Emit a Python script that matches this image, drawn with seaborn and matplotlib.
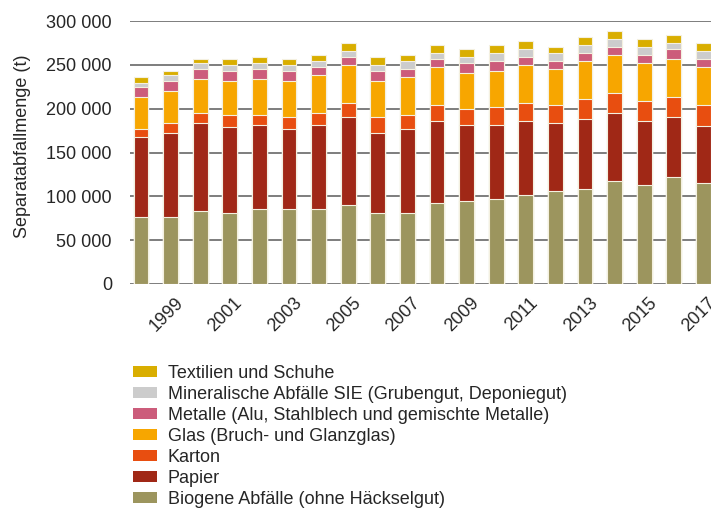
import numpy as np
import pandas as pd
import matplotlib
matplotlib.use("Agg")
import matplotlib.pyplot as plt
import matplotlib.transforms as mtransforms
from matplotlib.patches import Patch
from matplotlib.ticker import FuncFormatter
import seaborn as sns

# Separatabfall Mengen pro Jahr (t)
years = list(range(1998, 2018))
biogene = [76400, 76000, 83600, 80600, 85200, 85200, 85200, 89700, 80600, 80600,
           92000, 94300, 96600, 101100, 105700, 108000, 117100, 112500, 121700, 114800]
papier = [90900, 95900, 99700, 98100, 95800, 91200, 95800, 100400, 91300, 95800,
          93500, 86700, 84400, 84400, 77600, 79800, 77600, 73000, 68400, 65400]
karton = [9500, 11400, 11400, 13700, 11400, 13700, 13700, 16000, 18200, 16000,
          18300, 18200, 20500, 20600, 20500, 22800, 22800, 22900, 22800, 23600]
glas = [36100, 36500, 38700, 38800, 41000, 41100, 43300, 43300, 41100, 43300,
        43300, 41100, 41100, 43300, 41100, 43400, 43300, 43300, 43400, 43300]
metalle = [11400, 11400, 11500, 11400, 11500, 11400, 9100, 9100, 11400, 9200,
           9200, 11400, 11400, 9100, 9100, 9100, 9100, 9100, 11400, 9900]
mineral = [4600, 6800, 6800, 6800, 6800, 6800, 6900, 6900, 6800, 9100,
           6800, 6800, 9100, 9200, 9100, 9100, 9200, 9100, 6800, 9100]
textil = [6800, 4600, 4600, 6900, 6800, 6900, 6800, 9100, 9100, 6800,
          9100, 9200, 9100, 9000, 6800, 9100, 9100, 9200, 9100, 9200]

categories = [
    "Biogene Abfälle (ohne Häckselgut)",
    "Papier",
    "Karton",
    "Glas (Bruch- und Glanzglas)",
    "Metalle (Alu, Stahlblech und gemischte Metalle)",
    "Mineralische Abfälle SIE (Grubengut, Deponiegut)",
    "Textilien und Schuhe",
]
colors = ["#9c955e", "#a02816", "#e84e10", "#f7a600", "#cc5c7b", "#cccccc", "#d9ae00"]

df = pd.DataFrame({"Jahr": [str(y) for y in years]})
for name, vals in zip(categories, [biogene, papier, karton, glas, metalle, mineral, textil]):
    df[name] = vals

sns.set_theme(style="white")
plt.rcParams["font.family"] = ["Liberation Sans", "DejaVu Sans"]
FS = 13

fig = plt.figure(figsize=(7.11, 5.08), dpi=100)
ax = fig.add_axes([130 / 711, 1 - 284 / 508, 581 / 711, 263 / 508])

# gestapelt: kumulierte Summen von oben nach unten zeichnen
cum = df[categories].cumsum(axis=1)
for name, col in reversed(list(zip(categories, colors))):
    sns.barplot(x=df["Jahr"], y=cum[name], color=col, width=0.5,
                edgecolor="#f4f0e0", linewidth=0.8, saturation=1, ax=ax, zorder=3)

ax.set_ylim(0, 300000)
ax.set_xlim(-0.37, 19.26)
ax.set_yticks(np.arange(0, 300001, 50000))
ax.yaxis.set_major_formatter(FuncFormatter(lambda v, p: f"{int(v):,}".replace(",", " ")))
ax.grid(axis="y", color="#5a5a5a", linewidth=1.1, zorder=0)
ax.set_axisbelow(True)
sns.despine(ax=ax, left=True, bottom=True, top=True, right=True)

ax.set_xticks(range(1, 20, 2))
ax.set_xticklabels([str(y) for y in years[1::2]], rotation=45, ha="right",
                   rotation_mode="anchor", fontsize=FS)
ax.tick_params(axis="x", length=0, pad=7)
ax.tick_params(axis="y", length=0, pad=13, labelsize=FS)
shift = mtransforms.ScaledTranslation(4 / 100, -1 / 100, fig.dpi_scale_trans)
for lbl in ax.get_xticklabels():
    lbl.set_transform(lbl.get_transform() + shift)

ax.set_xlabel("")
ax.set_ylabel("Separatabfallmenge (t)", fontsize=FS)
ax.yaxis.set_label_coords(-99 / 581, 0.525)

handles = [Patch(facecolor=c, edgecolor="none", label=n)
           for n, c in reversed(list(zip(categories, colors)))]
fig.legend(handles=handles, loc="upper left", bbox_to_anchor=(126 / 711, 1 - 358 / 508),
           frameon=False, fontsize=FS, handlelength=1.3, handleheight=0.55,
           handletextpad=0.6, labelspacing=0.22, borderaxespad=0)

fig.savefig("out.png", dpi=100)
